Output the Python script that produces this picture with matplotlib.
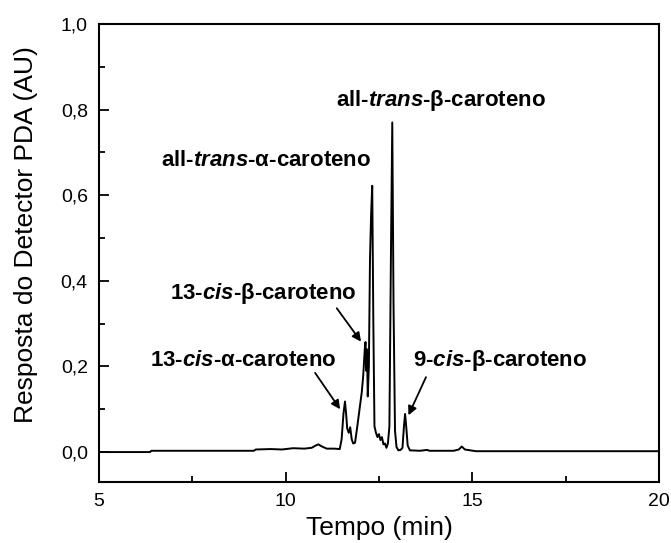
import matplotlib.pyplot as plt
import matplotlib.ticker as mticker

plt.rcParams['font.family'] = ['Liberation Sans', 'DejaVu Sans']
plt.rcParams['mathtext.fontset'] = 'custom'
plt.rcParams['mathtext.bfit'] = 'Liberation Sans:italic:bold'
plt.rcParams['mathtext.it'] = 'Liberation Sans:italic'

tempo = [5.00, 6.37, 6.40, 9.15, 9.20, 9.60, 9.90, 10.20,
         10.50, 10.70, 10.80, 10.88, 10.95, 11.10, 11.30, 11.45,
         11.50, 11.55, 11.59, 11.62, 11.65, 11.69, 11.73, 11.77,
         11.81, 11.86, 11.92, 11.98, 12.04, 12.08, 12.12, 12.14,
         12.16, 12.18, 12.20, 12.23, 12.26, 12.29, 12.32, 12.35,
         12.38, 12.42, 12.46, 12.50, 12.54, 12.58, 12.62, 12.66,
         12.70, 12.74, 12.78, 12.82, 12.857, 12.89, 12.93, 12.97,
         13.02, 13.08, 13.13, 13.17, 13.20, 13.23, 13.27, 13.33,
         13.60, 13.79, 13.85, 14.50, 14.64, 14.72, 14.80, 15.10,
         20.00]
resposta = [0.000, 0.000, 0.003, 0.003, 0.006, 0.007, 0.006, 0.009,
            0.008, 0.010, 0.015, 0.018, 0.014, 0.008, 0.008, 0.007,
            0.030, 0.090, 0.118, 0.090, 0.055, 0.045, 0.058, 0.030,
            0.020, 0.022, 0.060, 0.100, 0.140, 0.180, 0.240, 0.257,
            0.190, 0.240, 0.130, 0.200, 0.450, 0.555, 0.622, 0.300,
            0.060, 0.045, 0.035, 0.042, 0.028, 0.035, 0.018, 0.020,
            0.010, 0.020, 0.060, 0.450, 0.770, 0.350, 0.050, 0.012,
            0.004, 0.005, 0.010, 0.060, 0.089, 0.060, 0.015, 0.004,
            0.003, 0.005, 0.003, 0.003, 0.006, 0.013, 0.006, 0.002,
            0.002]

# rótulos dos picos: texto, posição do texto, seta (None = sem seta)
rotulos = [r'all-$\bfit{trans}$-β-caroteno',
           r'all-$\bfit{trans}$-α-caroteno',
           r'13-$\bfit{cis}$-β-caroteno',
           r'13-$\bfit{cis}$-α-caroteno',
           r'9-$\bfit{cis}$-β-caroteno']
texto_x = [14.15, 9.47, 9.41, 8.86, 15.74]
texto_y = [0.822, 0.682, 0.371, 0.215, 0.215]
seta_de = [None, None, (11.37, 0.336), (10.79, 0.185), (13.76, 0.175)]
seta_ate = [None, None, (12.02, 0.258), (11.46, 0.100), (13.29, 0.086)]

fig = plt.figure(figsize=(6.71, 5.43), dpi=100)
ax = fig.add_axes([0.1475, 0.1123, 0.8345, 0.8435])

ax.plot(tempo, resposta, color='black', linewidth=1.4)

for i in range(len(rotulos)):
    ax.text(texto_x[i], texto_y[i], rotulos[i], ha='center', va='center',
            fontsize=16, fontweight='bold')
    if seta_de[i] is not None:
        ax.annotate('', xy=seta_ate[i], xytext=seta_de[i],
                    arrowprops=dict(arrowstyle='-|>', color='black', lw=1.3,
                                    mutation_scale=13, shrinkA=0, shrinkB=0))

ax.set_xlim(5, 20)
ax.set_ylim(-0.07, 1.0)
ax.xaxis.set_major_locator(mticker.MultipleLocator(5))
ax.xaxis.set_minor_locator(mticker.MultipleLocator(2.5))
ax.yaxis.set_major_locator(mticker.MultipleLocator(0.2))
ax.yaxis.set_minor_locator(mticker.MultipleLocator(0.1))
ax.yaxis.set_major_formatter(mticker.FuncFormatter(lambda v, p: f'{v:.1f}'.replace('.', ',')))

ax.tick_params(which='both', direction='in', top=False, right=False, labelsize=14, pad=8)
ax.tick_params(which='major', length=7, width=1.3)
ax.tick_params(which='minor', length=4, width=1.3)
for s in ax.spines.values():
    s.set_linewidth(1.5)

ax.set_xlabel('Tempo (min)', fontsize=19, labelpad=4)
ax.set_ylabel('Resposta do Detector PDA (AU)', fontsize=19)
ax.yaxis.set_label_coords(-0.109, 0.541)

fig.savefig('out.png', dpi=100)
